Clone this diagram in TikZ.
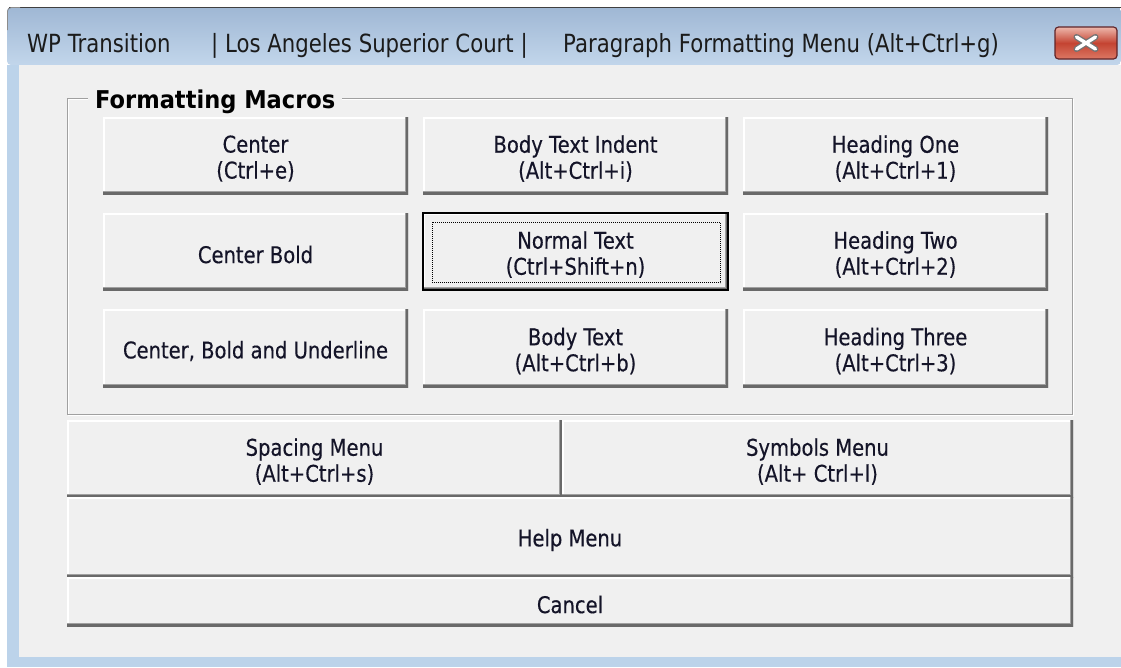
\documentclass[tikz,border=0pt]{standalone}
\usepackage{fontspec}
\newfontfamily\uifont[FakeStretch=0.85,FakeBold=0.35]{DejaVu Sans}
\newfontfamily\titlefont[FakeStretch=0.85]{DejaVu Sans}
\newfontfamily\uiboldfont[FakeStretch=0.92]{DejaVu Sans}
\definecolor{face}{HTML}{F0F0F0}
\definecolor{btndark}{HTML}{696969}
\definecolor{btnmid}{HTML}{A0A0A0}
\definecolor{btntext}{HTML}{141428}
\definecolor{framecol}{HTML}{BCD3EA}
\definecolor{tbtop}{HTML}{9FB7D4}
\definecolor{tbbot}{HTML}{C2D6EB}
\definecolor{grpline}{HTML}{A0A0A0}
\definecolor{titletext}{HTML}{1B1B1B}
\newcommand\mkbtn[6]{\node[btn,minimum width={(#4-#2)*1pt},minimum height={(#5-#3)*1pt}] (#1) at ({(#2+#4)/2},{(#3+#5)/2}) {};
  \node[btnlabel] (#1-text) at ([yshift=-3pt]#1.center) {#6};}
\begin{document}
\begin{tikzpicture}[x=1pt,y=-1pt,
  btn/.style={rectangle,fill=face,inner sep=0pt,
    path picture={
      \draw[white,line width=3pt] (path picture bounding box.south west) -- (path picture bounding box.north west) -- (path picture bounding box.north east);
      \draw[btnmid,line width=6pt] (path picture bounding box.south west) -- (path picture bounding box.south east) -- (path picture bounding box.north east);
      \draw[btndark,line width=4pt] (path picture bounding box.south west) -- (path picture bounding box.south east) -- (path picture bounding box.north east);
    }},
  btnlabel/.style={inner sep=0pt,align=center,text=btntext,font=\uifont\fontsize{23}{26}\selectfont},
  titlelbl/.style={anchor=base west,inner sep=0pt,text=titletext,font=\titlefont\fontsize{25}{28}\selectfont}]
\useasboundingbox (0,0) rectangle (1121,667);
\fill[white] (0,0) rectangle (1121,667);
% window frame
\fill[framecol] (7,65) rectangle (1121,667);
\shade[top color=tbtop,bottom color=tbbot,rounded corners=4pt] (7,65) -- (7,7) -- (1121,7) -- (1121,65) -- cycle;
\draw[black!75,line width=1.2pt] (9,7.5) -- (1121,7.5);
\draw[black!45,line width=0.8pt,rounded corners=4pt] (7.4,30) -- (7.4,7.5) -- (20,7.5);
\fill[face] (19,65) rectangle (1121,657);
% title bar texts
\node[titlelbl] (t1) at (27,52) {WP Transition};
\node[titlelbl] (t2) at (211,52) {| Los Angeles Superior Court |};
\node[titlelbl] (t3) at (563,52) {Paragraph Formatting Menu (Alt+Ctrl+g)};
% close button
\node[rectangle,rounded corners=3.5pt,minimum width=62pt,minimum height=32pt,draw={rgb,255:red,96;green,36;blue,40},line width=1.2pt,
  top color={rgb,255:red,238;green,184;blue,172},bottom color={rgb,255:red,220;green,120;blue,100},middle color={rgb,255:red,196;green,68;blue,50},inner sep=0pt] (close) at (1086,43) {};
\draw[black!55,line width=6pt,line cap=round] ([shift={(-9.5,-6)}]close.center) -- ([shift={(9.5,6)}]close.center);
\draw[black!55,line width=6pt,line cap=round] ([shift={(-9.5,6)}]close.center) -- ([shift={(9.5,-6)}]close.center);
\draw[white,line width=3.4pt,line cap=round] ([shift={(-9.5,-6)}]close.center) -- ([shift={(9.5,6)}]close.center);
\draw[white,line width=3.4pt,line cap=round] ([shift={(-9.5,6)}]close.center) -- ([shift={(9.5,-6)}]close.center);
% group box
\draw[white,line width=1pt] (68.5,99.5) rectangle (1073.5,415.5);
\draw[grpline,line width=1pt] (67.5,98.5) rectangle (1072.5,414.5);
\node[anchor=base west,fill=face,inner xsep=7pt,inner ysep=2pt,text=black,font=\uiboldfont\bfseries\fontsize{24.5}{28}\selectfont] (gtitle) at (88,108) {Formatting Macros};
% grid buttons
\mkbtn{b11}{103}{117}{408}{194}{Center\\(Ctrl+e)}
\mkbtn{b12}{423}{117}{728}{194}{Body Text Indent\\(Alt+Ctrl+i)}
\mkbtn{b13}{743}{117}{1048}{194}{Heading One\\(Alt+Ctrl+1)}
\mkbtn{b21}{103}{213}{408}{290}{Center Bold}
\mkbtn{b22}{423}{213}{728}{290}{Normal Text\\(Ctrl+Shift+n)}
\mkbtn{b23}{743}{213}{1048}{290}{Heading Two\\(Alt+Ctrl+2)}
\mkbtn{b31}{103}{309}{408}{387}{Center, Bold and Underline}
\mkbtn{b32}{423}{309}{728}{387}{Body Text\\(Alt+Ctrl+b)}
\mkbtn{b33}{743}{309}{1048}{387}{Heading Three\\(Alt+Ctrl+3)}
% focus ring on Normal Text
\draw[black,line width=2pt] (b22.north west) rectangle (b22.south east);
\draw[black,line width=1pt,dash pattern=on 1pt off 1pt] ([shift={(9.5,9.5)}]b22.north west) rectangle ([shift={(-7.5,-7.5)}]b22.south east);
% lower buttons
\mkbtn{spacing}{67}{420}{562}{497}{Spacing Menu\\(Alt+Ctrl+s)}
\mkbtn{symbols}{562}{420}{1073}{497}{Symbols Menu\\(Alt+ Ctrl+l)}
\mkbtn{help}{67}{497}{1073}{577}{Help Menu}
\mkbtn{cancel}{67}{577}{1073}{626}{Cancel}
\end{tikzpicture}
\end{document}
